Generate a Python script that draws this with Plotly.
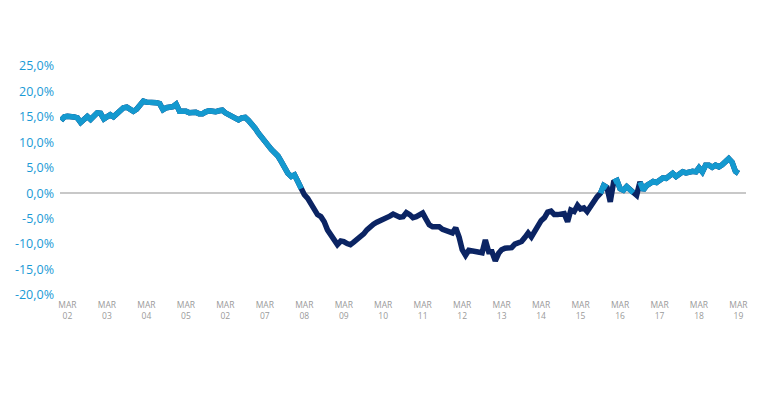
import plotly.graph_objects as go
import pandas as pd

# Monthly series, Jan 2002 .. Mar 2019 (percent)
start_month = "2002-01-01"
values = [
    14.3, 15.0, 15.1, 15.1, 15.0, 14.8, 13.9, 14.5, 15.1, 14.5, 15.2, 15.8,
    15.7, 14.6, 15.0, 15.4, 15.0, 15.7, 16.3, 16.8, 16.9, 16.5, 16.1, 16.5,
    17.3, 18.1, 17.9, 17.9, 17.9, 17.8, 17.6, 16.4, 16.8, 17.0, 17.0, 17.5,
    16.1, 16.1, 16.1, 15.8, 15.9, 15.9, 15.6, 15.6, 16.0, 16.2, 16.1, 16.0,
    16.2, 16.3, 15.8, 15.4, 15.1, 14.8, 14.4, 14.8, 14.9, 14.3, 13.6, 12.8,
    11.8, 11.1, 10.4, 9.4, 8.6, 7.9, 7.3, 6.2, 4.9, 3.9, 3.3, 3.6,
    2.3, 0.9, -0.3, -1.0, -2.1, -3.0, -4.2, -4.6, -5.6, -7.2, -8.2, -9.2,
    -10.1, -9.4, -9.5, -9.9, -10.1, -9.6, -9.1, -8.6, -8.0, -7.2, -6.5, -6.1,
    -5.7, -5.4, -5.2, -5.0, -4.5, -4.1, -4.5, -4.7, -4.6, -3.8, -4.2, -4.8,
    -4.6, -4.3, -3.9, -5.1, -6.2, -6.6, -6.6, -6.6, -7.1, -7.3, -7.4, -7.8,
    -6.8, -8.6, -11.1, -12.2, -11.2, -11.3, -11.5, -11.6, -11.7, -9.2, -11.5, -11.5,
    -13.3, -11.8, -11.1, -10.8, -10.7, -10.7, -10.0, -9.7, -9.5, -8.7, -7.8, -8.6,
    -7.5, -6.3, -5.4, -4.8, -3.7, -3.5, -4.2, -4.2, -4.2, -4.0, -5.6, -3.3,
    -3.6, -2.4, -3.1, -2.9, -3.6, -2.5, -1.6, -0.7, 0.0, 1.5, 1.1, -1.7,
    2.2, 2.5, 0.9, 0.6, 1.3, 0.7, 0.1, -0.4, 2.2, 0.6, 1.5, 1.8,
    2.3, 2.1, 2.5, 3.0, 2.9, 3.5, 3.9, 3.3, 3.8, 4.2, 4.0, 4.2,
    4.3, 4.2, 5.0, 4.2, 5.5, 5.5, 5.1, 5.5, 5.2, 5.6, 6.3, 6.8,
    6.1, 4.3, 3.9,
]

tick_dates = [f"{y}-03-01" for y in range(2002, 2020)]
tick_labels = ["02", "03", "04", "05", "02", "07", "08", "09", "10",
               "11", "12", "13", "14", "15", "16", "17", "18", "19"]
y_ticks = [-20, -15, -10, -5, 0, 5, 10, 15, 20, 25]
y_tick_labels = ["-20,0%", "-15,0%", "-10,0%", "-5,0%", "0,0%",
                 "5,0%", "10,0%", "15,0%", "20,0%", "25,0%"]

dates = pd.date_range(start_month, periods=len(values), freq="MS")
pos_values = [v if v >= 0 else None for v in values]

LIGHT = "#1499cf"
DARK = "#0b2463"

fig = go.Figure()
fig.add_trace(go.Scatter(x=dates, y=values, mode="lines",
                         line=dict(color=DARK, width=5.5), hoverinfo="skip"))
fig.add_trace(go.Scatter(x=dates, y=pos_values, mode="lines", connectgaps=False,
                         line=dict(color=LIGHT, width=5.5), hoverinfo="skip"))

fig.update_layout(
    width=770, height=393,
    margin=dict(l=52, r=32, t=58, b=106),
    paper_bgcolor="white", plot_bgcolor="white",
    showlegend=False,
    font=dict(family="Open Sans, Noto Sans, sans-serif"),
)
fig.update_xaxes(
    type="date",
    range=["2001-12-22", "2019-05-10"],
    tickvals=tick_dates,
    ticktext=[f"MAR<br>{t}" for t in tick_labels],
    tickfont=dict(size=8.5, color="#9a9a9a"),
    ticklabelstandoff=3,
    automargin=False,
    showgrid=False, zeroline=False, showline=False, ticks="",
)
fig.update_yaxes(
    range=[-20, 25],
    tickvals=y_ticks,
    ticktext=y_tick_labels,
    tickfont=dict(size=12.5, color="#1a9ad6"),
    ticklabelstandoff=5,
    automargin=False,
    showgrid=False, showline=False, ticks="",
    zeroline=True, zerolinecolor="#c8c8c8", zerolinewidth=2,
)
fig.write_html("out.html")
